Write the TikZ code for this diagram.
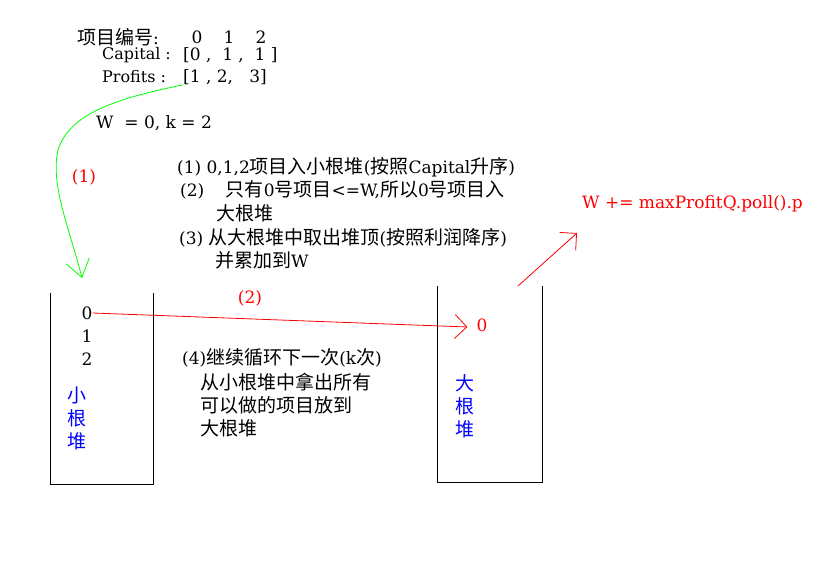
\documentclass[tikz,border=0pt]{standalone}
\usepackage{fontspec}
\setmainfont{DejaVu Serif}
\newfontfamily\cjk{Noto Sans CJK SC}
\newcommand\cjtxt[1]{{\fontsize{19}{22}\selectfont\cjk #1}}
\usetikzlibrary{arrows.meta}
\begin{document}
\begin{tikzpicture}[x=1pt,y=-1pt,
  txt/.style={inner sep=0pt, anchor=west, font=\fontsize{17}{20}\selectfont},
  smalltxt/.style={txt, font=\fontsize{16}{19}\selectfont},
  ctr/.style={txt, anchor=center},
  redtxt/.style={txt, text={rgb,255:red,255;green,0;blue,0}},
  bluetxt/.style={ctr, text={rgb,255:red,0;green,0;blue,255}, font=\fontsize{19}{22}\selectfont\cjk},
  heapbox/.style={draw=black, line width=0.9pt},
  greenarrow/.style={draw={rgb,255:red,0;green,255;blue,0}, line width=0.8pt, -{Straight Barb[length=17pt,width=24pt,line width=0.8pt]}},
  redarrow/.style={draw={rgb,255:red,255;green,0;blue,0}, line width=0.8pt, -{Straight Barb[length=12pt,width=24pt,line width=0.8pt]}}
]
\useasboundingbox[fill=white] (0,0) rectangle (830,561);

% header
\node[txt] (hdr) at (77,37) {\cjtxt{项目编号}:};
\node[ctr] (i0) at (197,37) {0};
\node[ctr] (i1) at (229,37) {1};
\node[ctr] (i2) at (261,37) {2};
\node[smalltxt] (capl) at (102,55) {Capital :};
\node[txt] (capv) at (183,55) {[0 ,\ \ 1 ,\ \ 1 ]};
\node[smalltxt] (profl) at (102,77) {Profits :};
\node[txt] (profv) at (183,77) {[1 ,\ 2,\ \ \ 3]};
\node[txt] (wk) at (96,123) {W\ \ = 0, k = 2};
\node[redtxt, anchor=center] (l1) at (84,177) {(1)};

% steps
\node[txt] (s1) at (177,167) {(1) 0,1,2\cjtxt{项目入小根堆}(\cjtxt{按照}Capital\cjtxt{升序})};
\node[txt] (s2) at (180,190) {(2)\ \ \ \ \cjtxt{只有}0\cjtxt{号项目}<=W,\cjtxt{所以}0\cjtxt{号项目入}};
\node[txt] (s2b) at (216,213) {\cjtxt{大根堆}};
\node[txt] (s3) at (179,238) {(3) \cjtxt{从大根堆中取出堆顶}(\cjtxt{按照利润降序})};
\node[txt] (s3b) at (215,260) {\cjtxt{并累加到}W};

\node[redtxt] (wexp) at (582,204) {W += maxProfitQ.poll().p};

% heaps
\draw[heapbox] (50,293) -- (50,484) -- (153,484) -- (153,293);
\draw[heapbox] (437,286) -- (437,482) -- (542,482) -- (542,286);

\node[ctr] (z0) at (87,313) {0};
\node[ctr] (z1) at (87,336) {1};
\node[ctr] (z2) at (87,359) {2};
\node[bluetxt] (sm1) at (77,395) {小};
\node[bluetxt] (sm2) at (77,418) {根};
\node[bluetxt] (sm3) at (77,441) {堆};

\node[bluetxt] (bg1) at (465,383) {大};
\node[bluetxt] (bg2) at (465,406) {根};
\node[bluetxt] (bg3) at (465,429) {堆};

\node[redtxt, anchor=center] (r0) at (482,325) {0};
\node[redtxt, anchor=center] (l2) at (250,298) {(2)};

\node[txt] (s4) at (182,358) {(4)\cjtxt{继续循环下一次}(k\cjtxt{次})};
\node[txt] (s4b) at (200,382) {\cjtxt{从小根堆中拿出所有}};
\node[txt] (s4c) at (200,405) {\cjtxt{可以做的项目放到}};
\node[txt] (s4d) at (200,428) {\cjtxt{大根堆}};

% connectors
\coordinate (gtip) at (82,278);
\draw[greenarrow] (profv.south west) .. controls (120,98) and (70,112) .. (58,150)
   .. controls (50,185) and (70,230) .. (gtip);
\draw[redarrow] (z0.east) -- ([xshift=-9pt,yshift=-2pt]r0.west);
\coordinate (pstart) at (518,286);
\coordinate (ptip) at (577,233);
\draw[redarrow] (pstart) -- (ptip);
\end{tikzpicture}
\end{document}
